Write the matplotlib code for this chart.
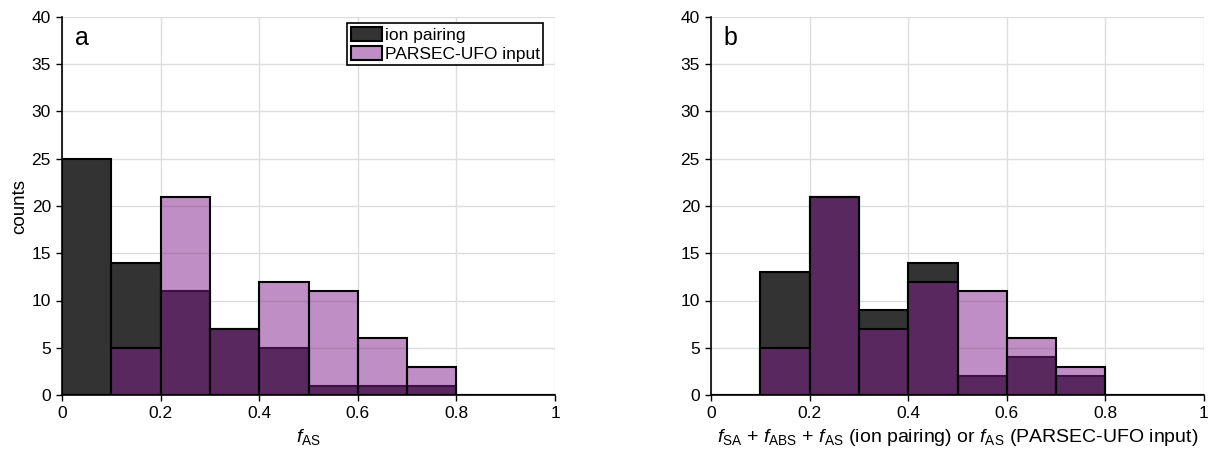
import numpy as np
import matplotlib
matplotlib.use("Agg")
import matplotlib.pyplot as plt

plt.rcParams['font.family'] = ['Liberation Sans', 'DejaVu Sans']
plt.rcParams['mathtext.fontset'] = 'custom'
plt.rcParams['mathtext.rm'] = 'Liberation Sans'
plt.rcParams['mathtext.it'] = 'Liberation Sans:italic'

bin_edges = [0.0, 0.1, 0.2, 0.3, 0.4, 0.5, 0.6, 0.7, 0.8, 0.9, 1.0]
ion_a = [25, 14, 11, 7, 5, 1, 1, 1, 0, 0]
parsec_a = [0, 5, 21, 7, 12, 11, 6, 3, 0, 0]
ion_b = [0, 13, 21, 9, 14, 2, 4, 2, 0, 0]
parsec_b = [0, 5, 21, 7, 12, 11, 6, 3, 0, 0]
series_labels = ["ion pairing", "PARSEC-UFO input"]
panel_letters = ["a", "b"]
xlabels = [r"$f_{\mathrm{AS}}$",
           r"$f_{\mathrm{SA}}$ + $f_{\mathrm{ABS}}$ + $f_{\mathrm{AS}}$ (ion pairing) or $f_{\mathrm{AS}}$ (PARSEC-UFO input)"]

dark = (0.2, 0.2, 0.2, 1.0)
purple = (0.5, 0.12, 0.54, 0.5)

fig = plt.figure(figsize=(12.14, 4.54), dpi=100)
W, H = 1214, 454
axes = [fig.add_axes([62 / W, 1 - 395 / H, 493 / W, 378 / H]),
        fig.add_axes([711 / W, 1 - 395 / H, 493 / W, 378 / H])]

centers = [(bin_edges[i] + bin_edges[i + 1]) / 2 for i in range(len(bin_edges) - 1)]
data = [(ion_a, parsec_a), (ion_b, parsec_b)]

for k, ax in enumerate(axes):
    ion, par = data[k]
    ax.hist(centers, bins=bin_edges, weights=ion, facecolor=dark,
            edgecolor='black', linewidth=1.5, label=series_labels[0], zorder=2)
    ax.hist(centers, bins=bin_edges, weights=par, facecolor=purple,
            edgecolor='black', linewidth=1.5, label=series_labels[1], zorder=3)
    ax.set_xlim(0, 1)
    ax.set_ylim(0, 40)
    ax.set_xticks([0, 0.2, 0.4, 0.6, 0.8, 1.0])
    ax.set_xticklabels(["0", "0.2", "0.4", "0.6", "0.8", "1"])
    ax.set_yticks(range(0, 41, 5))
    ax.grid(True, color='#dddddd', linewidth=1.0, zorder=0)
    ax.set_axisbelow(True)
    for s in ['top', 'right']:
        ax.spines[s].set_visible(False)
    for s in ['left', 'bottom']:
        ax.spines[s].set_linewidth(1.2)
        ax.spines[s].set_zorder(5)
    ax.tick_params(direction='out', length=4, width=1, labelsize=12.5, pad=4)
    ax.text(0.026, 0.944, panel_letters[k], transform=ax.transAxes,
            fontsize=18, va='center', ha='left')
    ax.set_xlabel(xlabels[k], fontsize=14, labelpad=4)

axes[0].set_ylabel("counts", fontsize=13.5, labelpad=2)
leg = axes[0].legend(loc='upper right', bbox_to_anchor=(0.976, 0.983),
                     fontsize=12.5, frameon=True, fancybox=False,
                     edgecolor='black', framealpha=1, borderpad=0.2,
                     handlelength=1.8, handleheight=0.9, handletextpad=0.15,
                     labelspacing=0.15, borderaxespad=0)
leg.get_frame().set_linewidth(1.2)

fig.savefig("out.png", dpi=100)
